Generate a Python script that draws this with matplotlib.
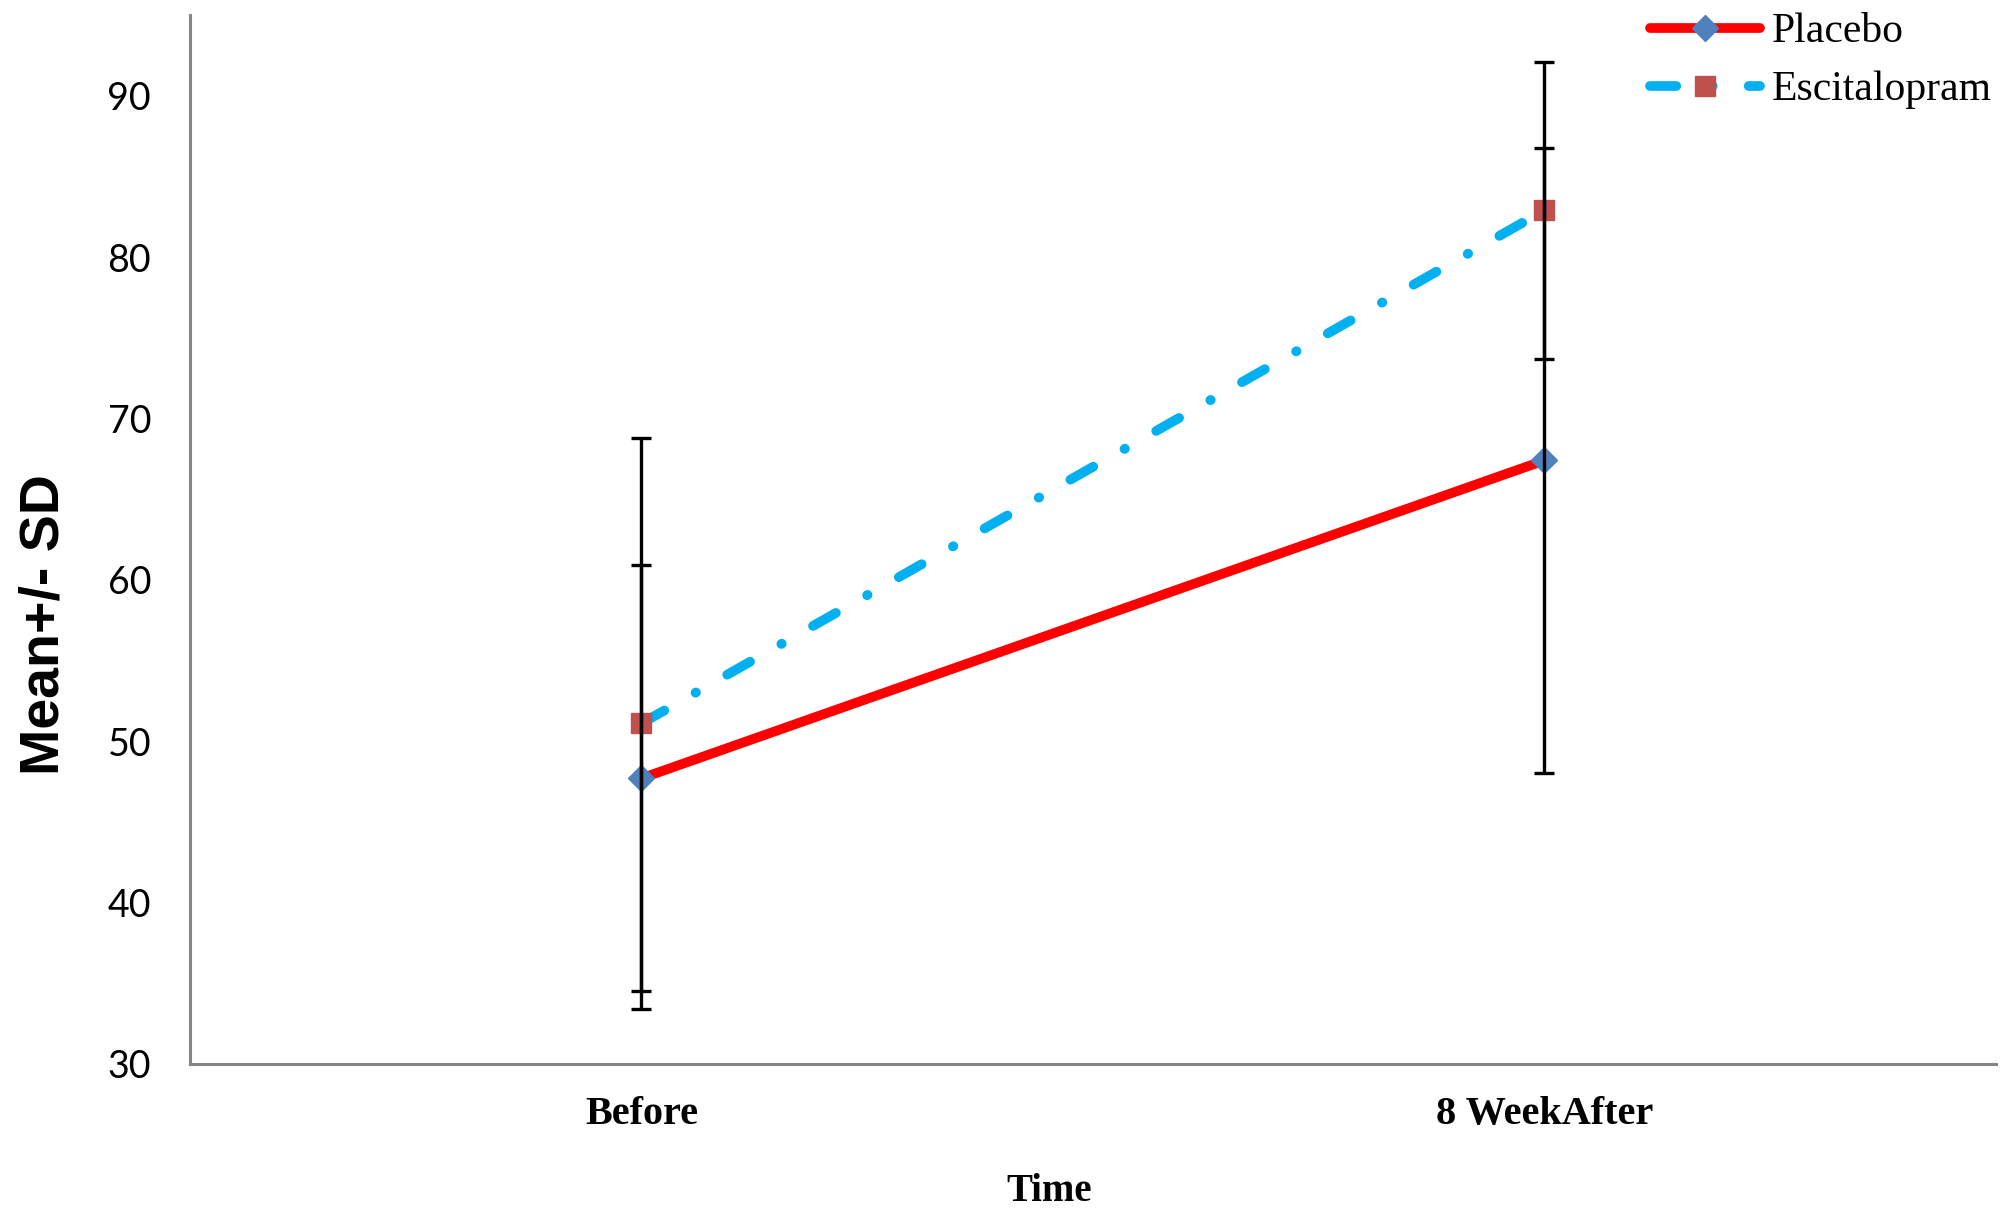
import numpy as np
import matplotlib.pyplot as plt
from matplotlib.lines import Line2D

# Data: mean and SD at each time point
times = ["Before", "8 WeekAfter"]
placebo_mean = [47.7, 67.4]
placebo_sd = [13.2, 19.35]
escit_mean = [51.1, 82.9]
escit_sd = [17.7, 9.2]

x = np.arange(len(times))

LW = 7.0
DASH = (0, (2.7, 3.7, 0.05, 3.7))

fig = plt.figure(figsize=(20.1, 12.1), dpi=100)
ax = fig.add_axes([0.0945, 0.1207, 0.8985, 0.8669])

# lines + markers
ax.plot(x, placebo_mean, color='#FF0000', lw=LW, solid_capstyle='round',
        marker='D', ms=13.5, mfc='#4F81BD', mec='#4F81BD', zorder=3, label='Placebo')
ax.plot(x, escit_mean, color='#00B0F0', lw=LW, dash_capstyle='round',
        linestyle=DASH,
        marker='s', ms=15, mfc='#C0504D', mec='#C0504D', zorder=3, label='Escitalopram')

# error bars on top of markers, like Excel
ax.errorbar(x, placebo_mean, yerr=placebo_sd, fmt='none', ecolor='black',
            elinewidth=2.4, capsize=7, capthick=2.4, zorder=4)
ax.errorbar(x, escit_mean, yerr=escit_sd, fmt='none', ecolor='black',
            elinewidth=2.4, capsize=7, capthick=2.4, zorder=4)

ax.set_xlim(-0.5, 1.5)
ax.set_ylim(30, 95)
ax.set_yticks(np.arange(30, 91, 10))
ax.set_xticks(x)
ax.set_xticklabels(times, fontfamily='Liberation Serif', fontweight='bold', fontsize=29)
for lab in ax.get_yticklabels():
    lab.set_fontfamily('Lato')
    lab.set_fontsize(27)
ax.tick_params(axis='y', length=0, pad=28)
ax.tick_params(axis='x', length=0, pad=23)

for s in ['top', 'right']:
    ax.spines[s].set_visible(False)
for s in ['left', 'bottom']:
    ax.spines[s].set_color('#868686')
    ax.spines[s].set_linewidth(2.2)

ax.set_ylabel("Mean+/- SD", fontfamily='Liberation Sans',
              fontweight='bold', fontsize=40)
ax.yaxis.set_label_coords(-0.0808, 0.4185)
ax.yaxis.label.set_va('center')
ax.set_xlabel("Time", fontfamily='Liberation Serif', fontweight='bold', fontsize=28)
ax.xaxis.set_label_coords(0.476, -0.122)
ax.xaxis.label.set_va('center')

handles = [
    Line2D([], [], color='#FF0000', lw=LW, solid_capstyle='round',
           marker='D', ms=13.5, mfc='#4F81BD', mec='#4F81BD'),
    Line2D([], [], color='#00B0F0', lw=LW, dash_capstyle='round',
           linestyle=DASH,
           marker='s', ms=15, mfc='#C0504D', mec='#C0504D'),
]
fig.legend(handles, ['Placebo', 'Escitalopram'], loc='upper left',
           bbox_to_anchor=(1650 / 2010, 1 - 13 / 1210), frameon=False,
           prop={'family': 'Liberation Serif', 'size': 30}, numpoints=1,
           handlelength=2.63, handletextpad=0.3, labelspacing=0.46,
           borderpad=0, borderaxespad=0)

plt.savefig("out.png", dpi=100)
plt.close()
